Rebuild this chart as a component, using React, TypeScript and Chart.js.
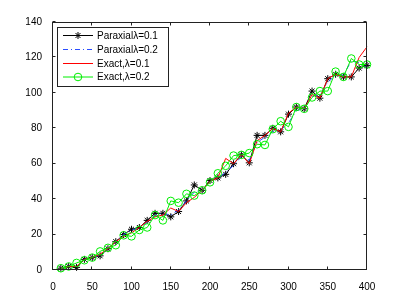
import React, { useEffect, useRef } from "react";
import { Chart, registerables } from "chart.js";

Chart.register(...registerables);

const xValues = [10, 20, 30, 40, 50, 60, 70, 80, 90, 100, 110, 120, 130, 140, 150, 160, 170, 180, 190, 200, 210, 220, 230, 240, 250, 260, 270, 280, 290, 300, 310, 320, 330, 340, 350, 360, 370, 380, 390, 400];
const paraxial01 = [1, 2, 1.5, 6, 7, 8, 12, 16, 20, 23, 24, 28, 32, 32, 30, 33, 39, 48, 45, 50.5, 52, 54, 60, 65, 60.5, 76, 76, 80, 78, 88, 92, 91, 101, 97, 108, 110.5, 109, 109, 114, 115.5];
const paraxial02 = [1, 2, 2, 6, 7, 8.5, 12, 16, 20, 22.5, 24, 27, 31, 32, 31, 34, 39, 44, 45, 50, 52, 55, 59, 64, 62, 72, 75, 78, 79, 83, 90, 91, 98, 99, 106, 110, 110, 118, 117, 114];
const exact01 = [1, 2, 2, 6, 7, 9, 12, 16, 19, 21, 24, 27.5, 30, 31, 35, 33, 38, 41, 45, 50, 52, 63, 60, 65, 60, 73, 76, 80, 78, 88.5, 92, 91, 99, 97, 108, 110.5, 109, 109, 120, 126];
const exact02 = [1, 2, 4, 5.5, 7, 10.5, 12.5, 14, 19.6, 19, 22.6, 24, 31, 28, 39, 38, 43, 42, 45, 49.5, 54.6, 58.8, 64.6, 65, 66, 71, 70.6, 79.5, 84, 80.8, 92, 91, 97.4, 101, 101, 112, 109, 119.4, 116, 116];
const xTicks = [0, 50, 100, 150, 200, 250, 300, 350, 400];
const yTicks = [0, 20, 40, 60, 80, 100, 120, 140];
const legendLabels = ["Paraxialλ=0.1", "Paraxialλ=0.2", "Exact,λ=0.1", "Exact,λ=0.2"];

const FONT = "'Liberation Sans', Arial, Helvetica, sans-serif";
const BLACK = "#000000";
const BLUE = "#2a4dff";
const RED = "#ff0000";
const GREEN = "#00ee00";

function toPoints(ys: number[]) {
  return ys.map((y, i) => ({ x: xValues[i], y }));
}

function drawStar(ctx: CanvasRenderingContext2D, cx: number, cy: number, r: number) {
  ctx.beginPath();
  for (let k = 0; k < 4; k++) {
    const a = (k * Math.PI) / 4;
    ctx.moveTo(cx - r * Math.cos(a), cy - r * Math.sin(a));
    ctx.lineTo(cx + r * Math.cos(a), cy + r * Math.sin(a));
  }
  ctx.stroke();
}

const framePlugin = {
  id: "frame",
  afterDraw(chart: any) {
    const ctx: CanvasRenderingContext2D = chart.ctx;
    const { left, right, top, bottom } = chart.chartArea;
    const xs = chart.scales.x;
    const ys = chart.scales.y;
    const L = Math.round(left) - 0.5;
    const R = Math.round(right) - 0.5;
    const T = Math.round(top) + 0.5;
    const B = Math.round(bottom) - 0.5;
    ctx.save();
    ctx.strokeStyle = "#222";
    ctx.lineWidth = 1;
    ctx.setLineDash([]);
    ctx.strokeRect(L, T, R - L, B - T);
    const tl = 3;
    ctx.beginPath();
    xTicks.forEach((v) => {
      const px = Math.round(xs.getPixelForValue(v)) - 0.5;
      ctx.moveTo(px, B);
      ctx.lineTo(px, B - tl);
      ctx.moveTo(px, T);
      ctx.lineTo(px, T + tl);
    });
    yTicks.forEach((v) => {
      const py = Math.round(ys.getPixelForValue(v)) - 0.5;
      ctx.moveTo(L, py);
      ctx.lineTo(L + tl, py);
      ctx.moveTo(R, py);
      ctx.lineTo(R - tl, py);
    });
    ctx.stroke();

    // legend
    const bx = 57.5, by = 27.5, bw = 111, bh = 59;
    ctx.fillStyle = "#ffffff";
    ctx.fillRect(bx, by, bw, bh);
    ctx.strokeStyle = "#222";
    ctx.strokeRect(bx, by, bw, bh);
    const rowY = [35.5, 49.5, 63.5, 77];
    const x0 = 63, x1 = 93, xm = 78;
    ctx.font = `10px ${FONT}`;
    ctx.textBaseline = "middle";
    ctx.textAlign = "left";
    legendLabels.forEach((label, i) => {
      const y = rowY[i];
      ctx.setLineDash(i === 1 ? [5, 3, 1, 3] : []);
      ctx.strokeStyle = [BLACK, BLUE, RED, GREEN][i];
      ctx.lineWidth = 1;
      ctx.beginPath();
      ctx.moveTo(x0, y);
      ctx.lineTo(x1, y);
      ctx.stroke();
      ctx.setLineDash([]);
      if (i === 0) {
        ctx.strokeStyle = BLACK;
        drawStar(ctx, xm, y, 3.5);
      } else if (i === 3) {
        ctx.strokeStyle = GREEN;
        ctx.beginPath();
        ctx.arc(xm, y, 3.8, 0, Math.PI * 2);
        ctx.stroke();
      }
      ctx.fillStyle = "#000";
      ctx.fillText(label, 97, y + 0.5);
    });
    ctx.restore();
  },
};

export default function App() {
  const canvasRef = useRef<HTMLCanvasElement | null>(null);

  useEffect(() => {
    document.body.style.margin = "0";
    const canvas = canvasRef.current;
    if (!canvas) return;
    const tickFont = { family: FONT, size: 10 };
    const chart = new Chart(canvas, {
      type: "line",
      data: {
        datasets: [
          {
            label: legendLabels[0],
            data: toPoints(paraxial01),
            borderColor: BLACK,
            backgroundColor: "rgba(0,0,0,0)",
            borderWidth: 1,
            pointStyle: "star",
            pointRadius: 3.5,
            pointBorderColor: BLACK,
            pointBorderWidth: 1,
            tension: 0,
            order: 4,
            clip: false,
          },
          {
            label: legendLabels[1],
            data: toPoints(paraxial02),
            borderColor: BLUE,
            backgroundColor: "rgba(0,0,0,0)",
            borderWidth: 1,
            borderDash: [5, 3, 1, 3],
            pointRadius: 0,
            tension: 0,
            order: 3,
            clip: false,
          },
          {
            label: legendLabels[2],
            data: toPoints(exact01),
            borderColor: RED,
            backgroundColor: "rgba(0,0,0,0)",
            borderWidth: 1,
            pointRadius: 0,
            tension: 0,
            order: 2,
            clip: false,
          },
          {
            label: legendLabels[3],
            data: toPoints(exact02),
            borderColor: GREEN,
            backgroundColor: "rgba(0,0,0,0)",
            borderWidth: 1,
            pointStyle: "circle",
            pointRadius: 3.8,
            pointBorderColor: GREEN,
            pointBackgroundColor: "rgba(0,0,0,0)",
            pointBorderWidth: 1,
            tension: 0,
            order: 1,
            clip: false,
          },
        ],
      },
      options: {
        animation: false,
        responsive: false,
        devicePixelRatio: 1,
        layout: { padding: { top: 22, right: 38, left: 0, bottom: 0 } },
        plugins: { legend: { display: false }, tooltip: { enabled: false } },
        scales: {
          x: {
            type: "linear",
            min: 0,
            max: 400,
            afterBuildTicks: (scale: any) => {
              scale.ticks = xTicks.map((v) => ({ value: v }));
            },
            afterFit: (scale: any) => {
              scale.height = 35;
            },
            grid: { display: false },
            border: { display: false },
            ticks: { font: tickFont, color: "#000", padding: 3, maxRotation: 0, autoSkip: false },
          },
          y: {
            type: "linear",
            min: 0,
            max: 140,
            afterBuildTicks: (scale: any) => {
              scale.ticks = yTicks.map((v) => ({ value: v }));
            },
            afterFit: (scale: any) => {
              scale.width = 53;
            },
            grid: { display: false },
            border: { display: false },
            ticks: { font: tickFont, color: "#000", padding: 3, autoSkip: false },
          },
        },
      },
      plugins: [framePlugin],
    } as any);
    return () => chart.destroy();
  }, []);

  return (
    <div style={{ width: 405, height: 305 }}>
      <canvas ref={canvasRef} width={405} height={305} />
    </div>
  );
}
